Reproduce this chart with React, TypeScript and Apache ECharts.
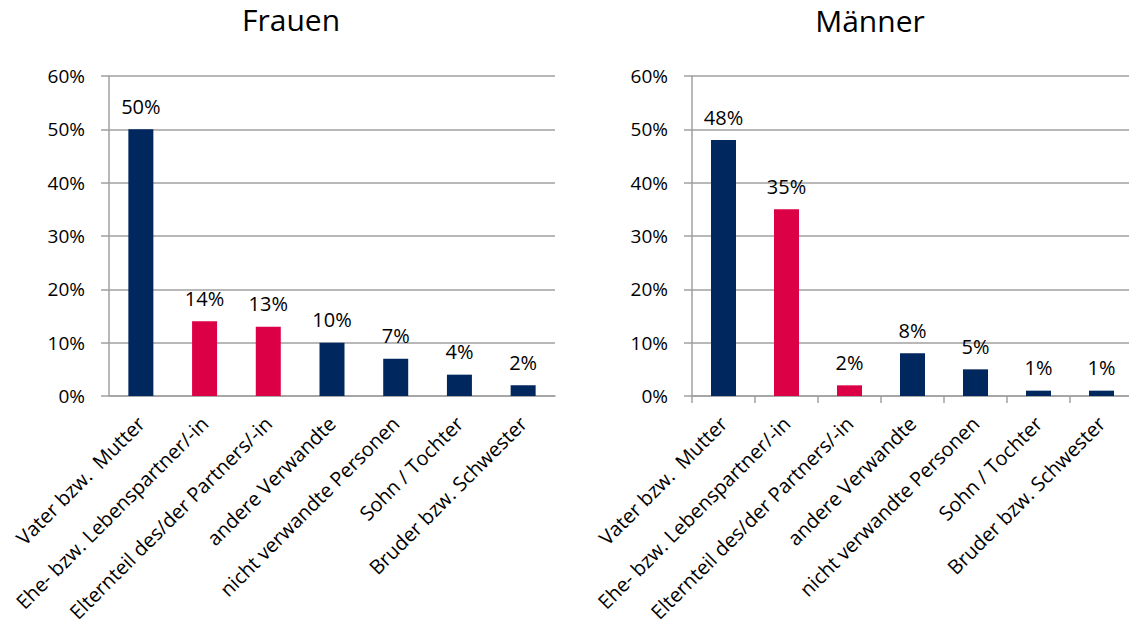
import React, { useEffect, useRef } from "react";
import * as echarts from "echarts";

const categories = [
  "Vater bzw.  Mutter",
  "Ehe- bzw. Lebenspartner/-in",
  "Elternteil des/der Partners/-in",
  "andere Verwandte",
  "nicht verwandte Personen",
  "Sohn / Tochter",
  "Bruder bzw. Schwester",
];
const partnerCategories = ["Ehe- bzw. Lebenspartner/-in", "Elternteil des/der Partners/-in"];
const frauenValues = [50, 14, 13, 10, 7, 4, 2];
const maennerValues = [48, 35, 2, 8, 5, 1, 1];
const yTicks = [0, 10, 20, 30, 40, 50, 60];

const NAVY = "#00285f";
const RED = "#dc0047";
const GRID = "#a0a0a0";
const FONT = "Open Sans";

export default function App() {
  const ref = useRef<HTMLDivElement>(null);
  useEffect(() => {
    document.body.style.margin = "0";
    const chart = echarts.init(ref.current!, undefined, { renderer: "svg" });
    const grids = [
      { left: 109, top: 76, width: 446, height: 320, outerBoundsMode: "none", containLabel: false },
      { left: 692, top: 76, width: 441, height: 320, outerBoundsMode: "none", containLabel: false },
    ];
    const mkX = (i: number, ticks: boolean) => ({
      type: "category",
      gridIndex: i,
      data: categories,
      axisLine: { show: true, lineStyle: { color: GRID, width: 1.5 } },
      axisTick: { show: ticks, length: 7, lineStyle: { color: GRID, width: 1.5 } },
      axisLabel: {
        interval: 0,
        rotate: 45,
        align: "right",
        verticalAlign: "middle",
        margin: 24,
        fontFamily: FONT,
        fontSize: 20,
        color: "#000",
      },
    });
    const mkY = (i: number) => ({
      type: "value",
      gridIndex: i,
      min: yTicks[0],
      max: yTicks[yTicks.length - 1],
      interval: 10,
      axisLine: { show: true, lineStyle: { color: GRID, width: 1.5 } },
      axisTick: { show: true, length: 8, lineStyle: { color: GRID, width: 1.5 } },
      splitLine: { show: true, lineStyle: { color: GRID, width: 1.5 } },
      axisLabel: {
        margin: 24,
        formatter: "{value}%",
        fontFamily: FONT,
        fontSize: 19,
        color: "#000",
      },
    });
    const mkSeries = (i: number, values: number[]) => ({
      type: "bar",
      xAxisIndex: i,
      yAxisIndex: i,
      barWidth: 25,
      data: values.map((v, k) => ({
        value: v,
        itemStyle: { color: partnerCategories.includes(categories[k]) ? RED : NAVY },
      })),
      label: {
        show: true,
        position: "top",
        distance: 13,
        formatter: "{c}%",
        fontFamily: FONT,
        fontSize: 20,
        color: "#000",
      },
    });
    chart.setOption({
      animation: false,
      title: [
        {
          text: "Frauen",
          left: 291,
          textAlign: "center",
          top: 4,
          padding: 0,
          textStyle: { fontFamily: FONT, fontSize: 30, fontWeight: "normal", color: "#000" },
        },
        {
          text: "Männer",
          left: 870,
          textAlign: "center",
          top: 5,
          padding: 0,
          textStyle: { fontFamily: FONT, fontSize: 30, fontWeight: "normal", color: "#000" },
        },
      ],
      grid: grids,
      xAxis: [mkX(0, false), mkX(1, true)],
      yAxis: [mkY(0), mkY(1)],
      series: [mkSeries(0, frauenValues), mkSeries(1, maennerValues)],
    });
    return () => chart.dispose();
  }, []);
  return <div ref={ref} style={{ width: 1129, height: 628 }} />;
}
